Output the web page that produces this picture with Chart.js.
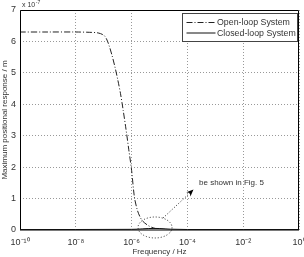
<!DOCTYPE html>
<html><head><meta charset="utf-8">
<script src="https://cdn.jsdelivr.net/npm/chart.js@4/dist/chart.umd.min.js"></script>
<style>html,body{margin:0;padding:0;background:#fff}#wrap{width:304px;height:257px}</style>
</head><body><div id="wrap"><canvas id="c" width="304" height="257"></canvas></div>
<script>
// ---- data ----
const openLoopExp = [-10, -9, -8, -7.5, -7.2, -7.0, -6.9, -6.8, -6.7, -6.6, -6.5, -6.4, -6.3, -6.2, -6.1, -6.0, -5.9, -5.8, -5.7, -5.6, -5.4, -5.2, -5.0, -4.8, -4.5, -4, -2, 0];
const openLoop    = [6.3, 6.3, 6.3, 6.29, 6.27, 6.2, 6.08, 5.85, 5.55, 5.2, 4.8, 4.35, 3.8, 3.2, 2.55, 1.9, 1.05, 0.65, 0.42, 0.28, 0.14, 0.06, 0.03, 0.01, 0, 0, 0, 0];
const closedLoopExp = [-10, -8, -6, -5.8, -5.6, -5.4, -5.2, -5.0, -4.8, -4.6, -4, -2, 0];
const closedLoop    = [0, 0, 0.005, 0.01, 0.02, 0.03, 0.035, 0.03, 0.02, 0.01, 0, 0, 0];
const xTickExps = [-10, -8, -6, -4, -2, 0];
const yTickValues = [0, 1, 2, 3, 4, 5, 6, 7];
const seriesNames = ['Open-loop System', 'Closed-loop System'];
const yMultiplierBase = 'x 10';
const yMultiplierExp = '-7';
const xTitle = 'Frequency / Hz';
const yTitle = 'Maximum positional response / m';
const noteText = 'be shown in Fig. 5';
const noteCenterExp = -5.16, noteCenterVal = 0.08;

const SUP = {'-':'\u207B','0':'\u2070','1':'\u00B9','2':'\u00B2','3':'\u00B3','4':'\u2074','5':'\u2075','6':'\u2076','7':'\u2077','8':'\u2078','9':'\u2079'};
const sup = s => String(s).split('').map(c => SUP[c] || c).join('');

const FONT = '"Liberation Sans", Arial, sans-serif';
const TXT = '#333';

const toPts = (exps, vals) => exps.map((e, i) => ({x: Math.pow(10, e), y: vals[i]}));

const dashDot = [6, 2, 1, 2];

const framePlugin = {
  id: 'frame',
  afterDatasetsDraw(chart) {
    const {ctx, chartArea: a, scales} = chart;
    ctx.save();
    ctx.setLineDash([]);
    ctx.strokeStyle = '#000';
    ctx.lineWidth = 1;
    ctx.beginPath();
    ctx.moveTo(Math.round(a.left) + 0.5, Math.round(a.bottom));
    ctx.lineTo(Math.round(a.left) + 0.5, Math.round(a.top) + 0.5);
    ctx.lineTo(Math.round(a.right) - 0.5, Math.round(a.top) + 0.5);
    ctx.lineTo(Math.round(a.right) - 0.5, Math.round(a.bottom));
    ctx.stroke();
    ctx.strokeStyle = '#7a7a7a';
    ctx.lineWidth = 2;
    ctx.beginPath();
    ctx.moveTo(a.left, Math.round(a.bottom));
    ctx.lineTo(a.right, Math.round(a.bottom));
    ctx.stroke();
    const ds = chart.getDatasetMeta(1);
    ctx.strokeStyle = '#111';
    ctx.lineWidth = 1;
    ctx.beginPath();
    ds.data.forEach((p, i) => { if (i === 0) ctx.moveTo(p.x, p.y - 0.5); else ctx.lineTo(p.x, p.y - 0.5); });
    ctx.stroke();

    // annotation ellipse + arrow
    const cx = scales.x.getPixelForValue(Math.pow(10, noteCenterExp));
    const cy = scales.y.getPixelForValue(noteCenterVal);
    ctx.strokeStyle = '#222';
    ctx.lineWidth = 1;
    ctx.setLineDash([1, 2]);
    ctx.beginPath();
    ctx.ellipse(cx, cy, 17, 10.5, 0, 0, Math.PI * 2);
    ctx.stroke();
    const sx = cx + 8, sy = cy - 9.5, ex = cx + 37, ey = cy - 36.5;
    ctx.beginPath();
    ctx.moveTo(sx, sy);
    ctx.lineTo(ex, ey);
    ctx.stroke();
    ctx.setLineDash([]);
    const ang = Math.atan2(ey - sy, ex - sx);
    ctx.fillStyle = '#000';
    ctx.beginPath();
    ctx.moveTo(ex + 2 * Math.cos(ang), ey + 2 * Math.sin(ang));
    ctx.lineTo(ex - 5 * Math.cos(ang) + 3 * Math.sin(ang), ey - 5 * Math.sin(ang) - 3 * Math.cos(ang));
    ctx.lineTo(ex - 3 * Math.cos(ang), ey - 3 * Math.sin(ang));
    ctx.lineTo(ex - 5 * Math.cos(ang) - 3 * Math.sin(ang), ey - 5 * Math.sin(ang) + 3 * Math.cos(ang));
    ctx.closePath();
    ctx.fill();
    ctx.fillStyle = TXT;
    ctx.font = '8px ' + FONT;
    ctx.textAlign = 'left';
    ctx.textBaseline = 'middle';
    ctx.fillText(noteText, ex + 7, ey - 8);

    // multiplier label
    ctx.font = '7px ' + FONT;
    ctx.textBaseline = 'alphabetic';
    ctx.fillText(yMultiplierBase, a.left + 2, a.top - 3);
    const w = ctx.measureText(yMultiplierBase).width;
    ctx.font = '5px ' + FONT;
    ctx.fillText(yMultiplierExp, a.left + 2 + w + 0.5, a.top - 6.5);

    // legend
    const lx = 182.5, ly = 13.5, lw = 115, lh = 28;
    ctx.fillStyle = '#fff';
    ctx.fillRect(lx, ly, lw, lh);
    ctx.strokeStyle = '#444';
    ctx.lineWidth = 1;
    ctx.strokeRect(lx, ly, lw, lh);
    ctx.font = '8.8px ' + FONT;
    ctx.textBaseline = 'middle';
    chart.data.datasets.forEach((d, i) => {
      const yy = ly + 9 + i * 10.5;
      ctx.strokeStyle = d.borderColor;
      ctx.setLineDash(d.borderDash || []);
      ctx.beginPath();
      ctx.moveTo(lx + 4, yy);
      ctx.lineTo(lx + 33, yy);
      ctx.stroke();
      ctx.setLineDash([]);
      ctx.fillStyle = TXT;
      ctx.fillText(d.label, lx + 34.5, yy + 0.5);
    });
    ctx.restore();
  }
};

new Chart(document.getElementById('c'), {
  type: 'line',
  data: {
    datasets: [
      {label: seriesNames[0], data: toPts(openLoopExp, openLoop), borderColor: '#222', borderWidth: 1, borderDash: dashDot, pointRadius: 0, tension: 0.3, fill: false},
      {label: seriesNames[1], data: toPts(closedLoopExp, closedLoop), borderColor: '#111', borderWidth: 1, pointRadius: 0, tension: 0, fill: false}
    ]
  },
  options: {
    responsive: false,
    animation: false,
    devicePixelRatio: 1,
    layout: {padding: {top: 10, right: 5, left: 0, bottom: 0}},
    plugins: {legend: {display: false}, tooltip: {enabled: false}},
    scales: {
      x: {
        type: 'logarithmic',
        min: 1e-10, max: 1,
        afterBuildTicks: s => { s.ticks = xTickExps.map(e => ({value: Math.pow(10, e)})); },
        afterFit: s => { s.height = 27; s.paddingLeft = 0; s.paddingRight = 0; },
        ticks: {
          autoSkip: false, maxRotation: 0, padding: 7,
          color: TXT, font: {family: FONT, size: 9},
          callback: v => '10' + sup(Math.round(Math.log10(v)))
        },
        grid: {color: '#999', lineWidth: 1, drawTicks: false},
        border: {display: false, dash: [1, 2]},
        title: {display: true, text: xTitle, color: TXT, font: {family: FONT, size: 8}, padding: {top: 0, bottom: 0}}
      },
      y: {
        min: 0, max: 7,
        afterBuildTicks: s => { s.ticks = yTickValues.map(v => ({value: v})); },
        afterFit: s => { s.width = 20; s.paddingTop = 0; s.paddingBottom = 0; },
        ticks: {color: TXT, font: {family: FONT, size: 9}, padding: 4},
        grid: {color: '#999', lineWidth: 1, drawTicks: false},
        border: {display: false, dash: [1, 2]},
        title: {display: true, text: yTitle, color: TXT, font: {family: FONT, size: 8}, padding: {top: 0, bottom: 0}}
      }
    }
  },
  plugins: [framePlugin]
});
</script>
</body></html>
